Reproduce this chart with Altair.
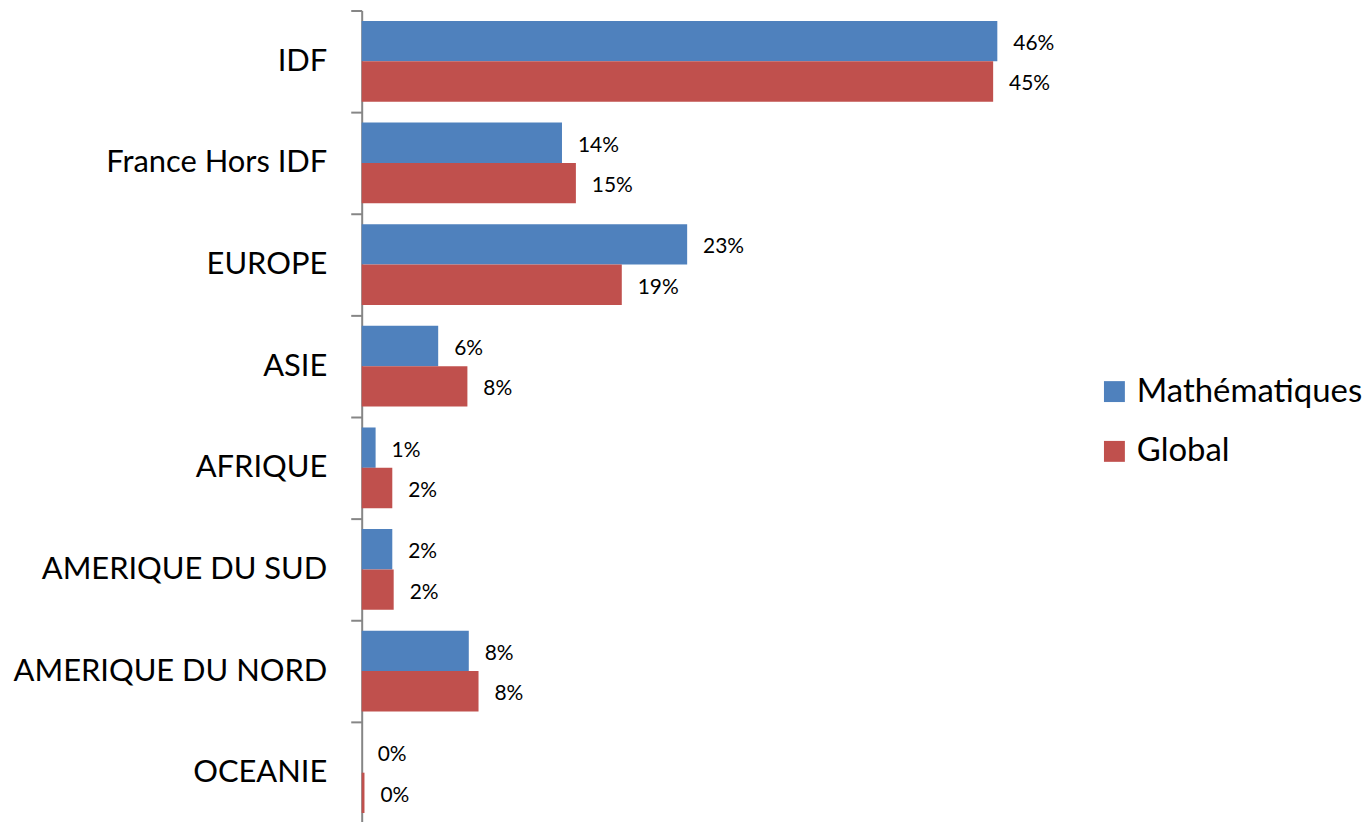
import altair as alt
import pandas as pd

categories = ["IDF", "France Hors IDF", "EUROPE", "ASIE", "AFRIQUE",
              "AMERIQUE DU SUD", "AMERIQUE DU NORD", "OCEANIE"]
series = ["Mathématiques", "Global"]
math_values = [0.457, 0.144, 0.234, 0.055, 0.010, 0.022, 0.077, 0.0]
global_values = [0.454, 0.154, 0.187, 0.076, 0.022, 0.023, 0.084, 0.002]
colors = ["#4F81BD", "#C0504D"]

rows = []
for c, m, g in zip(categories, math_values, global_values):
    rows.append({"cat": c, "series": series[0], "value": m})
    rows.append({"cat": c, "series": series[1], "value": g})
df = pd.DataFrame(rows)

FONT = "Lato"

y_enc = alt.Y("cat:N", sort=categories, title=None,
              scale=alt.Scale(paddingInner=0, paddingOuter=0),
              axis=alt.Axis(tickBand="extent", domainColor="#868686", domainWidth=2,
                            tickColor="#868686", tickWidth=2, tickSize=11,
                            labelFont=FONT, labelFontSize=31, labelColor="black",
                            labelPadding=24, labelLimit=400, grid=False))
yoff = alt.YOffset("series:N", sort=series,
                   scale=alt.Scale(paddingInner=0, paddingOuter=0.26))
x_enc = alt.X("value:Q", scale=alt.Scale(domain=[0, 0.5]), axis=None)

base = alt.Chart(df)

bars = base.mark_bar().encode(
    y=y_enc,
    yOffset=yoff,
    x=x_enc,
    color=alt.Color("series:N", sort=series,
                    scale=alt.Scale(domain=series, range=colors),
                    legend=alt.Legend(orient="none", legendX=739, legendY=366,
                                      title=None, symbolType="square", symbolSize=441,
                                      symbolStrokeWidth=0, labelFont=FONT,
                                      labelFontSize=33, labelColor="black",
                                      rowPadding=26, labelOffset=6, padding=0,
                                      labelLimit=400)),
)

labels = base.mark_text(align="left", baseline="middle", dx=16, dy=3,
                        font=FONT, fontSize=21, color="black").encode(
    y=alt.Y("cat:N", sort=categories),
    yOffset=yoff,
    x=x_enc,
    text=alt.Text("value:Q", format=".0%"),
)

chart = alt.layer(bars, labels).properties(
    width=698, height=816,
    autosize=alt.AutoSizeParams(type="none"),
    padding={"left": 355, "top": 1, "right": 308, "bottom": 0},
    background="white",
).configure_view(stroke=None)

chart.save("out.html", embed_options={"renderer": "svg", "actions": False})
